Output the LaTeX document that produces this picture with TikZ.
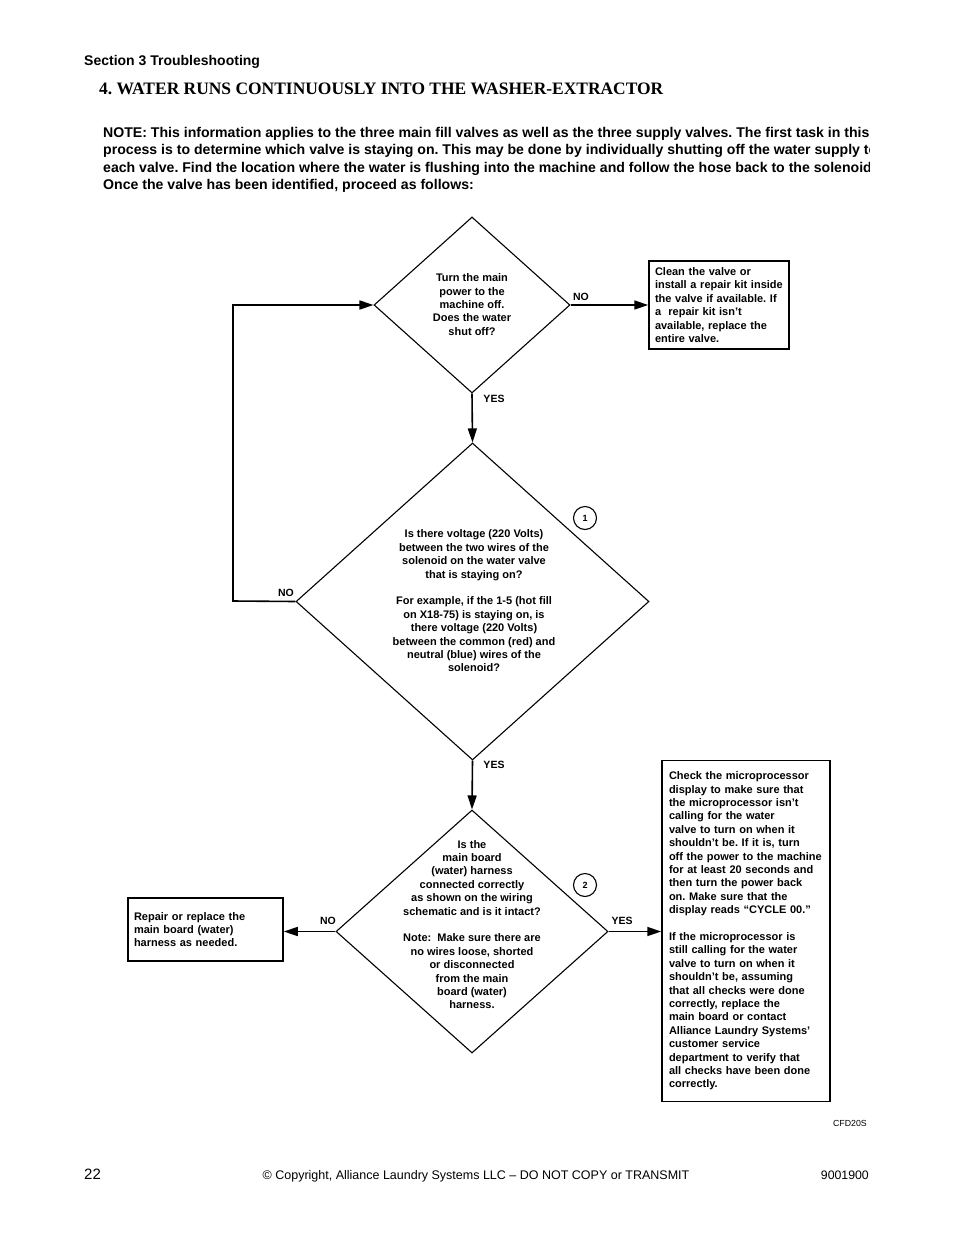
\documentclass[tikz,border=0pt]{standalone}
\usepackage{fontspec}
\setmainfont{Liberation Sans}
\newfontfamily\titlefont{Liberation Serif}
\usetikzlibrary{shapes.geometric,arrows.meta}
\frenchspacing
\begin{document}
\begin{tikzpicture}[x=1pt,y=-1pt,
  body/.style={font=\fontsize{11}{13.4}\selectfont\bfseries},
  dia/.style={draw, diamond, line width=1.1pt, inner sep=0pt},
  dtext/.style={body, align=center, inner sep=0pt},
  box/.style={draw, line width=1.5pt, body, align=left, inner ysep=0pt, inner xsep=6pt},
  lab/.style={font=\fontsize{10.5}{12}\selectfont\bfseries, inner sep=0pt},
  num/.style={draw, circle, line width=1.1pt, minimum size=23pt, inner sep=0pt, font=\fontsize{9}{10}\selectfont\bfseries},
  arr/.style={line width=1.6pt, -{Triangle[length=14pt,width=9pt]}},
  note/.style={font=\fontsize{14.1}{17.5}\selectfont\bfseries, inner sep=0pt, anchor=base west}]

\useasboundingbox (0,0) rectangle (954,1235);

% header
\node[font=\fontsize{14}{16}\selectfont\bfseries, inner sep=0pt, anchor=base west] (sec) at (84,65) {Section 3 Troubleshooting};
\node[font=\titlefont\fontsize{17.45}{20}\selectfont\bfseries, inner sep=0pt, anchor=base west] (title) at (99,94) {4. WATER RUNS CONTINUOUSLY INTO THE WASHER-EXTRACTOR};

\begin{scope}
\clip (90,110) rectangle (869.5,200);
\node[note] (n1) at (103,137) {NOTE: This information applies to the three main fill valves as well as the three supply valves. The first task in this};
\node[note] (n2) at (103,154.5) {process is to determine which valve is staying on. This may be done by individually shutting off the water supply to};
\node[note] (n3) at (103,172) {each valve. Find the location where the water is flushing into the machine and follow the hose back to the solenoid.};
\node[note] (n4) at (103,189.5) {Once the valve has been identified, proceed as follows:};
\end{scope}

% diamonds
\node[dia, minimum width=196pt, minimum height=176pt] (d1) at (472,305) {};
\node[dtext] (t1) at (472,304.5) {Turn the main\\power to the\\machine off.\\Does the water\\shut off?};

\node[dia, minimum width=353pt, minimum height=317pt] (d2) at (472.5,601.5) {};
\node[dtext] (t2) at (474,601) {Is there voltage (220 Volts)\\between the two wires of the\\solenoid on the water valve\\that is staying on?\\[13.4pt]For example, if the 1-5 (hot fill\\on X18-75) is staying on, is\\there voltage (220 Volts)\\between the common (red) and\\neutral (blue) wires of the\\solenoid?};

\node[dia, minimum width=272pt, minimum height=243pt] (d3) at (472,931.5) {};
\node[dtext] (t3) at (472,924.5) {Is the\\main board\\(water) harness\\connected correctly\\as shown on the wiring\\schematic and is it intact?\\[13.4pt]Note:\ \ Make sure there are\\no wires loose, shorted\\or disconnected\\from the main\\board (water)\\harness.};

% boxes
\node[box, text width=128pt, minimum height=88pt] (b1) at (719,305) {Clean the valve or\\install a repair kit inside\\the valve if available. If\\a\ \ repair kit isn’t\\available, replace the\\entire valve.};

\node[box, text width=143pt, minimum height=63pt] (b3) at (205.5,929.5) {Repair or replace the\\main board (water)\\harness as needed.};

\node[box, text width=154pt, inner xsep=7pt, minimum height=341pt] (b4) at (746,931) {Check the microprocessor\\display to make sure that\\the microprocessor isn’t\\calling for the water\\valve to turn on when it\\shouldn’t be. If it is, turn\\off the power to the machine\\for at least 20 seconds and\\then turn the power back\\on. Make sure that the\\display reads “CYCLE 00.”\\[13.4pt]If the microprocessor is\\still calling for the water\\valve to turn on when it\\shouldn’t be, assuming\\that all checks were done\\correctly, replace the\\main board or contact\\Alliance Laundry Systems’\\customer service\\department to verify that\\all checks have been done\\correctly.};

% numbered circles
\node[num] (c1) at (585,518) {1};
\node[num] (c2) at (585,885) {2};

% connectors
\draw[arr] (d1.east) -- (b1.west);
\draw[arr] (d1.south) -- (d2.north);
\coordinate (loop) at (233,601);
\draw[arr] (d2.west) -- (loop) |- (d1.west);
\draw[arr] (d2.south) -- (d3.north);
\draw[arr] (d3.west) -- (d3.west -| b3.east);
\draw[arr] (d3.east) -- (d3.east -| b4.west);

% labels
\node[lab] (l1) at (581,297) {NO};
\node[lab] (l2) at (494,399) {YES};
\node[lab] (l3) at (286,593) {NO};
\node[lab] (l4) at (494,765) {YES};
\node[lab] (l5) at (328,921) {NO};
\node[lab] (l6) at (622,921) {YES};

% footer
\node[font=\fontsize{8.8}{10}\selectfont, inner sep=0pt, anchor=base east] (cfd) at (867,1126) {CFD20S};
\node[font=\fontsize{15}{17}\selectfont, inner sep=0pt, anchor=base west] (pg) at (84,1179) {22};
\node[font=\fontsize{12.5}{15}\selectfont, inner sep=0pt, anchor=base] (copy) at (476,1179) {© Copyright, Alliance Laundry Systems LLC – DO NOT COPY or TRANSMIT};
\node[font=\fontsize{12.3}{15}\selectfont, inner sep=0pt, anchor=base east] (doc) at (869,1179) {9001900};
\end{tikzpicture}
\end{document}
